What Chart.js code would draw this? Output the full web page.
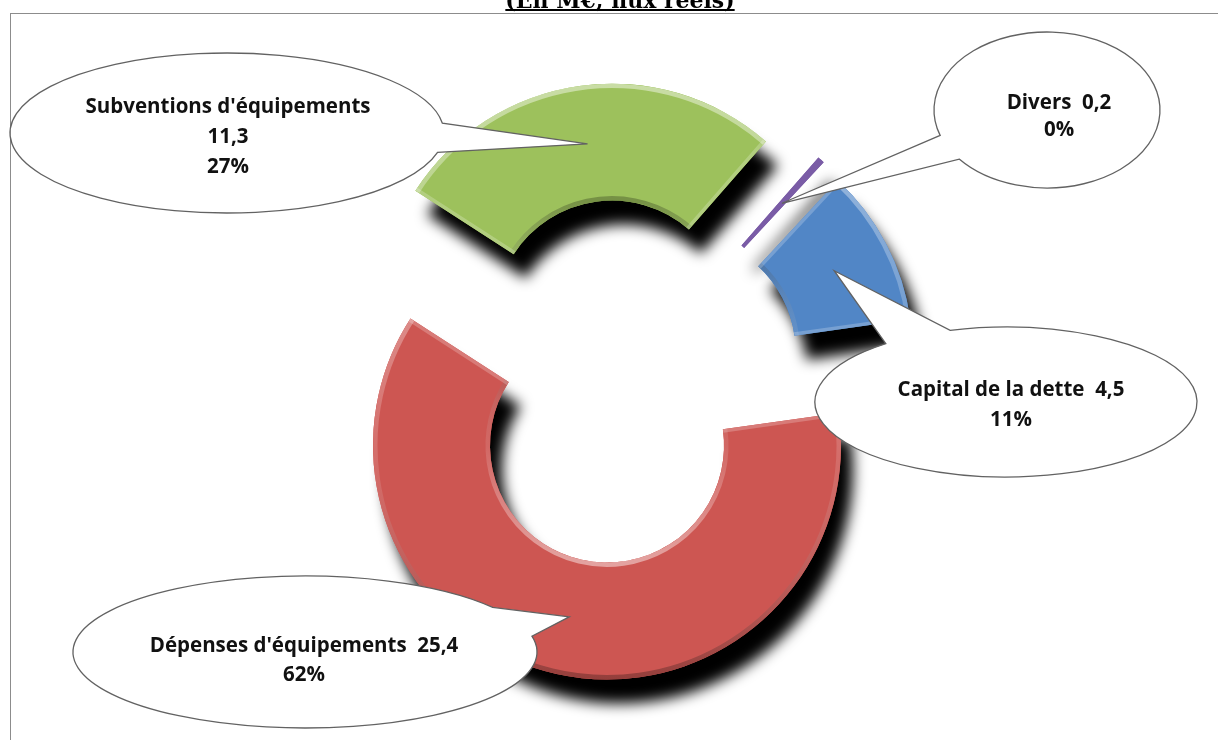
<!DOCTYPE html>
<html lang="fr">
<head>
<meta charset="utf-8">
<title>Dépenses d'investissement</title>
<script src="https://cdn.jsdelivr.net/npm/chart.js@4.4.1/dist/chart.umd.min.js"></script>
<style>
  html, body { margin: 0; padding: 0; background: #fff; }
  #wrap { position: relative; width: 1218px; height: 740px; overflow: hidden; }
</style>
</head>
<body>
<div id="wrap"><canvas id="donut"></canvas></div>
<script>
// flux réels, en millions d'euros
const labels = ["Dépenses d'équipements", "Subventions d'équipements", 'Divers', 'Capital de la dette'];
const amounts = [25.4, 11.3, 0.2, 4.5];
const shares = ['62%', '27%', '0%', '11%'];
const colors = ['#CD5652', '#9DC15C', '#7A5CA6', '#5186C6'];

const explode = 65;   // every slice is pulled out from the centre

// bulles : ellipse, base du pointeur (angles sur l'ellipse), position du texte
const callouts = [
  { cx: 305, cy: 652, rx: 232, ry: 76, base: [-36, -12], tx: 304, ty: 646, gap: 29, split: false },
  { cx: 227, cy: 133, rx: 217, ry: 80, base: [-7, 14], tx: 228, ty: 107, gap: 30, split: true },
  { cx: 1047, cy: 110, rx: 113, ry: 78, base: [141, 161], tx: 1059, ty: 103, gap: 27, split: false },
  { cx: 1006, cy: 402, rx: 191, ry: 75, base: [231, 253], tx: 1011, ty: 390, gap: 30, split: false },
];

const fmt = v => v.toFixed(1).replace('.', ',');

function pullOut(arc) {
  const mid = (arc.startAngle + arc.endAngle) / 2;
  return { dx: Math.cos(mid) * explode, dy: Math.sin(mid) * explode };
}

function ringPath(ctx, a) {
  ctx.beginPath();
  ctx.arc(a.x, a.y, a.outerRadius, a.startAngle, a.endAngle);
  ctx.arc(a.x, a.y, a.innerRadius, a.endAngle, a.startAngle, true);
  ctx.closePath();
}

// soft bevel: lit from above, so the outer rim darkens towards the bottom
// and the inner rim brightens towards the bottom
function bevel(ctx, a) {
  if (a.endAngle - a.startAngle < 0.1) return;
  const R = a.outerRadius, r = a.innerRadius;
  ctx.save();
  ringPath(ctx, a);
  ctx.clip();

  let g = ctx.createLinearGradient(0, a.y - R, 0, a.y + R);
  g.addColorStop(0, 'rgba(255,255,255,0.45)');
  g.addColorStop(0.55, 'rgba(255,255,255,0.12)');
  g.addColorStop(1, 'rgba(0,0,0,0.28)');
  ctx.strokeStyle = g;
  ctx.lineWidth = 9;
  ctx.beginPath();
  ctx.arc(a.x, a.y, R, a.startAngle, a.endAngle);
  ctx.stroke();

  g = ctx.createLinearGradient(0, a.y - r, 0, a.y + r);
  g.addColorStop(0, 'rgba(0,0,0,0.25)');
  g.addColorStop(0.5, 'rgba(255,255,255,0.1)');
  g.addColorStop(1, 'rgba(255,255,255,0.45)');
  ctx.strokeStyle = g;
  ctx.beginPath();
  ctx.arc(a.x, a.y, r, a.startAngle, a.endAngle);
  ctx.stroke();

  ctx.strokeStyle = 'rgba(255,255,255,0.22)';
  ctx.lineWidth = 7;
  [a.startAngle, a.endAngle].forEach(t => {
    ctx.beginPath();
    ctx.moveTo(a.x + Math.cos(t) * r, a.y + Math.sin(t) * r);
    ctx.lineTo(a.x + Math.cos(t) * R, a.y + Math.sin(t) * R);
    ctx.stroke();
  });
  ctx.restore();
}

// draws the slices ourselves so each one can be shifted and shadowed
const explodedArcs = {
  id: 'explodedArcs',
  beforeDraw(chart) {
    const ctx = chart.ctx;
    ctx.save();
    ctx.strokeStyle = '#8c8c8c';
    ctx.lineWidth = 1;
    ctx.strokeRect(10.5, 13.5, 1400, 900);
    ctx.restore();
  },
  beforeDatasetDraw(chart, args) {
    const ctx = chart.ctx;
    const arcs = args.meta.data;

    ctx.save();
    ctx.shadowColor = '#000';
    ctx.shadowBlur = 14;
    ctx.shadowOffsetX = 12;
    ctx.shadowOffsetY = 24;
    arcs.forEach(arc => {
      const p = pullOut(arc);
      ctx.save();
      ctx.translate(p.dx, p.dy);
      arc.draw(ctx);
      ctx.restore();
    });
    ctx.restore();

    arcs.forEach(arc => {
      const p = pullOut(arc);
      ctx.save();
      ctx.translate(p.dx, p.dy);
      arc.draw(ctx);
      bevel(ctx, arc);
      ctx.restore();
    });
    return false;
  },
  afterDraw(chart) {
    const ctx = chart.ctx;
    const arcs = chart.getDatasetMeta(0).data;

    callouts.forEach((c, i) => {
      const arc = arcs[i];
      const p = pullOut(arc);
      const t = arc.tooltipPosition();
      const tip = { x: t.x + p.dx, y: t.y + p.dy };
      const a1 = c.base[0] * Math.PI / 180;
      const a2 = c.base[1] * Math.PI / 180;

      ctx.save();
      ctx.beginPath();
      ctx.moveTo(tip.x, tip.y);
      ctx.lineTo(c.cx + c.rx * Math.cos(a2), c.cy + c.ry * Math.sin(a2));
      ctx.ellipse(c.cx, c.cy, c.rx, c.ry, 0, a2, a1 + 2 * Math.PI, false);
      ctx.closePath();
      ctx.fillStyle = '#fff';
      ctx.fill();
      ctx.strokeStyle = '#626262';
      ctx.lineWidth = 1.3;
      ctx.stroke();

      const lines = c.split
        ? [labels[i], fmt(amounts[i]), shares[i]]
        : [labels[i] + '  ' + fmt(amounts[i]), shares[i]];
      ctx.fillStyle = '#111';
      ctx.font = 'bold 20.5px "Open Sans"';
      ctx.textAlign = 'center';
      ctx.textBaseline = 'middle';
      lines.forEach((s, k) => ctx.fillText(s, c.tx, c.ty + k * c.gap));
      ctx.restore();
    });

    // titre, coupé en haut du cadre
    ctx.save();
    ctx.font = 'bold 22px "DejaVu Serif"';
    ctx.fillStyle = '#000';
    ctx.textAlign = 'center';
    ctx.textBaseline = 'alphabetic';
    const title = '(En M€, flux réels)';
    const w = ctx.measureText(title).width;
    ctx.fillText(title, 620, 8);
    ctx.fillRect(620 - w / 2, 9, w, 2);
    ctx.restore();
  }
};

new Chart(document.getElementById('donut'), {
  type: 'doughnut',
  data: {
    labels: labels,
    datasets: [{
      data: amounts,
      backgroundColor: colors,
      borderWidth: 0,
    }],
  },
  options: {
    responsive: true,
    maintainAspectRatio: false,
    animation: false,
    rotation: 82,
    radius: 234,
    cutout: '50%',
    layout: { padding: { left: 24, top: 24 } },
    plugins: {
      legend: { display: false },
      tooltip: { enabled: false },
    },
  },
  plugins: [explodedArcs],
});
</script>
</body>
</html>
